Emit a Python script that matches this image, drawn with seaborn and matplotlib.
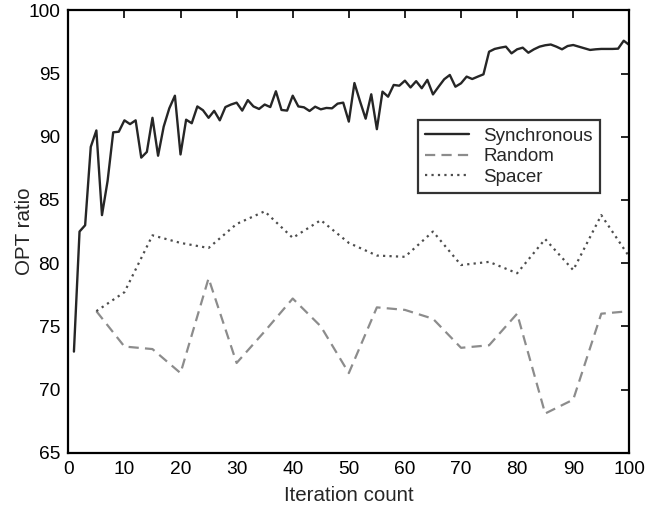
import numpy as np
import pandas as pd
import matplotlib
matplotlib.use("Agg")
import matplotlib.pyplot as plt
import seaborn as sns

sync_x = list(range(1, 101))
sync_y = [73.0, 82.5, 83.0, 89.2, 90.5, 83.8, 86.5, 90.35, 90.4, 91.3,
          91.0, 91.3, 88.35, 88.8, 91.5, 88.5, 90.8, 92.25, 93.25, 88.6,
          91.35, 91.07, 92.4, 92.1, 91.5, 92.05, 91.3, 92.35, 92.55, 92.7,
          92.07, 92.9, 92.4, 92.2, 92.55, 92.35, 93.6, 92.12, 92.07, 93.25,
          92.4, 92.33, 92.04, 92.38, 92.17, 92.28, 92.25, 92.62, 92.7, 91.2,
          94.25, 92.8, 91.43, 93.36, 90.6, 93.57, 93.17, 94.1, 94.04, 94.44,
          93.9, 94.4, 93.84, 94.5, 93.35, 93.96, 94.55, 94.89, 93.96, 94.23,
          94.76, 94.57, 94.76, 94.94, 96.73, 96.95, 97.05, 97.13, 96.6, 96.92,
          97.05, 96.65, 96.92, 97.13, 97.24, 97.3, 97.13, 96.92, 97.18, 97.26,
          97.13, 97.0, 96.87, 96.92, 96.95, 96.95, 96.95, 96.97, 97.6, 97.26]

step_x = [5, 10, 15, 20, 25, 30, 35, 40, 45, 50,
          55, 60, 65, 70, 75, 80, 85, 90, 95, 100]
random_y = [76.2, 73.4, 73.2, 71.3, 78.8, 72.1, 74.6, 77.2, 75.0, 71.3,
            76.5, 76.3, 75.6, 73.3, 73.5, 76.0, 68.1, 69.2, 76.0, 76.2]
spacer_y = [76.2, 77.7, 82.2, 81.6, 81.2, 83.1, 84.1, 82.0, 83.4, 81.6,
            80.6, 80.5, 82.5, 79.85, 80.1, 79.2, 81.9, 79.45, 83.8, 80.5]

x_ticks = [0, 10, 20, 30, 40, 50, 60, 70, 80, 90, 100]
y_ticks = [65, 70, 75, 80, 85, 90, 95, 100]

sns.set_style("white")
plt.rcParams['font.family'] = ['Liberation Sans', 'DejaVu Sans']
plt.rcParams['font.size'] = 14

fig = plt.figure(figsize=(6.55, 5.09), dpi=100)
ax = fig.add_axes([0.1043, 0.1106, 0.8565, 0.8690])

sns.lineplot(x=sync_x, y=sync_y, ax=ax, color="#262626", linewidth=1.7,
             label="Synchronous")
sns.lineplot(x=step_x, y=random_y, ax=ax, color="#8c8c8c", linewidth=1.6,
             label="Random")
ax.lines[-1].set_dashes([4.6, 2.8])
sns.lineplot(x=step_x, y=spacer_y, ax=ax, color="#4d4d4d", linewidth=1.6,
             label="Spacer")
ax.lines[-1].set_linestyle((0, (1, 1.9)))

ax.set_xlim(0, 100)
ax.set_ylim(65, 100)
ax.set_xticks(x_ticks)
ax.set_yticks(y_ticks)
ax.tick_params(direction="in", length=6, width=1.2, top=True, right=True,
               labelsize=13.8, colors="black", pad=6)
for s in ax.spines.values():
    s.set_visible(True)
    s.set_color("black")
    s.set_linewidth(1.6)
ax.set_xlabel("Iteration count", fontsize=14.8, labelpad=6)
ax.set_ylabel("OPT ratio", fontsize=14.8, labelpad=-4)
ax.grid(False)

leg = ax.legend(loc="upper right", bbox_to_anchor=(0.948, 0.752),
                fontsize=13.5, frameon=True, fancybox=False, handlelength=2.3,
                borderpad=0.4, labelspacing=0.18, handletextpad=0.78,
                borderaxespad=0)
leg.get_frame().set_edgecolor("black")
leg.get_frame().set_linewidth(1.6)

fig.savefig("out.png", dpi=100)
